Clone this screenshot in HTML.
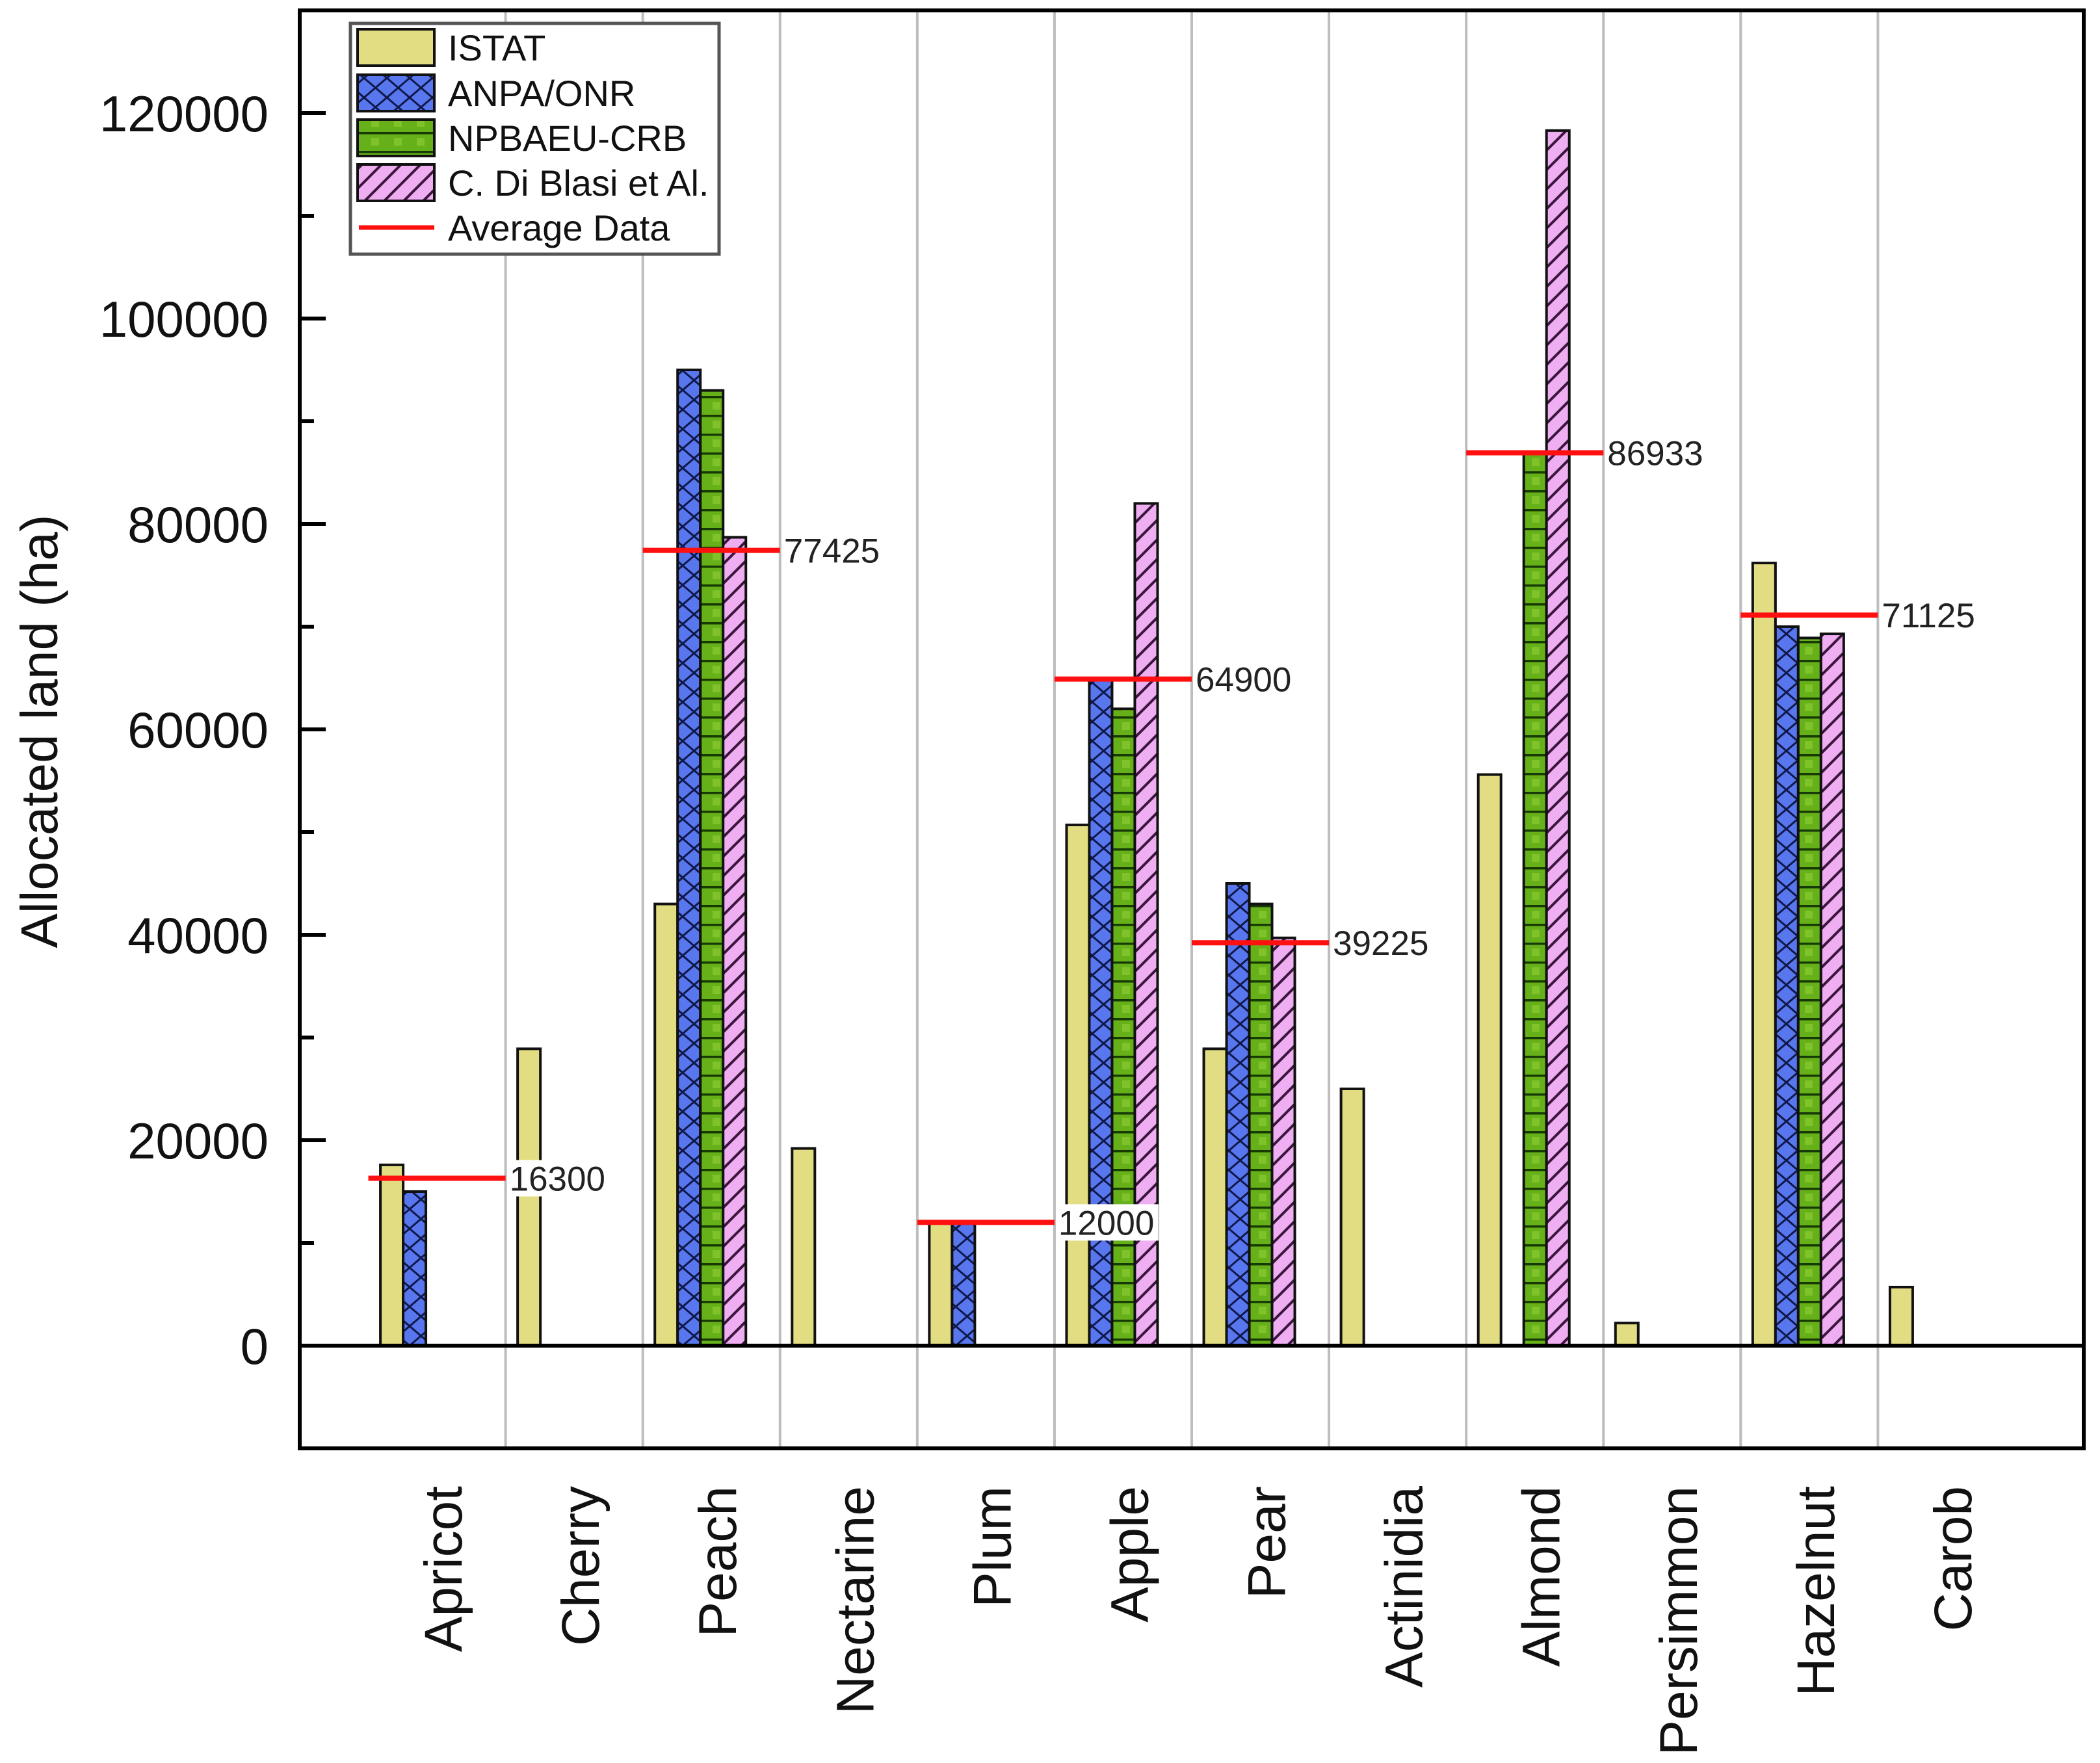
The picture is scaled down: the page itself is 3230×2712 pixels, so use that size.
<!DOCTYPE html>
<html><head><meta charset="utf-8"><style>
html,body{margin:0;padding:0;background:#fff;}
svg{display:block;font-family:"Liberation Sans",Arial,sans-serif;}
</style></head><body>
<svg id="chart" width="3230" height="2712" viewBox="0 0 3230 2712" xmlns="http://www.w3.org/2000/svg">
<defs>
<pattern id="pIstat" patternUnits="userSpaceOnUse" width="30" height="30"><rect width="30" height="30" fill="#e2dd82"/></pattern>
<pattern id="pAnpa" patternUnits="userSpaceOnUse" width="35" height="30"><rect width="35" height="30" fill="#5877ee"/><path d="M0,0 L35,30 M35,0 L0,30" stroke="#10184a" stroke-width="3"/></pattern>
<pattern id="pNpb" patternUnits="userSpaceOnUse" width="35" height="29"><rect width="35" height="29" fill="#66b019"/><path d="M0,1 L35,1" stroke="#173a05" stroke-width="5"/><rect x="11" y="9" width="12" height="12" fill="#7fc22a"/></pattern>
<pattern id="pCdb" patternUnits="userSpaceOnUse" width="30" height="30"><rect width="30" height="30" fill="#f0aef2"/><path d="M-8,38 L38,-8 M-23,23 L23,-23 M7,53 L53,7" stroke="#3a163c" stroke-width="4"/></pattern>
</defs>
<g id="plot"></g>
</svg>
<script>
const categories = ["Apricot","Cherry","Peach","Nectarine","Plum","Apple","Pear","Actinidia","Almond","Persimmon","Hazelnut","Carob"];
const istat  = [17600, 28900, 43000, 19200, 12000, 50700, 28900, 25000, 55600, 2200, 76200, 5700];
const anpa   = [15000, null, 95000, null, 12000, 64800, 45000, null, null, null, 70000, null];
const npbaeu = [null, null, 93000, null, null, 62000, 43000, null, 86900, null, 68900, null];
const diBlasi= [null, null, 78700, null, null, 82000, 39700, null, 118300, null, 69300, null];
const averages = [16300, null, 77425, null, 12000, 64900, 39225, null, 86933, null, 71125, null];
const yTicks = [0, 20000, 40000, 60000, 80000, 100000, 120000];
const seriesNames = ["ISTAT","ANPA/ONR","NPBAEU-CRB","C. Di Blasi et Al."];

const NS = "http://www.w3.org/2000/svg";
const L = 461, R = 3205, T = 16, B = 2228;
const yMin = -10000, yMax = 130000;
const step = (R - L) / 13;
function yScale(v){ return B - (v - yMin) / (yMax - yMin) * (B - T); }
function xScale(i){ return L + (i + 1) * step; }
const g = document.getElementById('plot');
function el(tag, attrs, parent){ const e = document.createElementNS(NS, tag); for (const k in attrs) e.setAttribute(k, attrs[k]); (parent||g).appendChild(e); return e; }

for (let i = 0; i < categories.length - 1; i++) {
  const x = xScale(i) + step / 2;
  const gl = el('line', {x1:x, x2:x, y1:T, y2:B, stroke:'#bdbdbd', 'stroke-width':4});
  
  
}
const all = [istat, anpa, npbaeu, diBlasi];
const fills = ['url(#pIstat)','url(#pAnpa)','url(#pNpb)','url(#pCdb)'];
const bw = 35;
for (let s = 0; s < all.length; s++) {
  for (let i = 0; i < categories.length; i++) {
    const v = all[s][i];
    if (v === null) continue;
    const x = xScale(i) - 87 + s * bw;
    const y0 = yScale(0), y1 = yScale(v);
    const r = el('rect', {x:x, y:y1, width:bw, height:y0 - y1, fill:fills[s], stroke:'#111', 'stroke-width':4});
    
    
  }
}
const zl = el('line', {x1:L, x2:R, y1:yScale(0), y2:yScale(0), stroke:'#000', 'stroke-width':6});


for (let i = 0; i < categories.length; i++) {
  const v = averages[i];
  if (v === null) continue;
  const cx = xScale(i), y = yScale(v);
  const bg = el('rect', {x:cx + step/2 + 4, y:y - 28, width:156, height:56, fill:'#fff'});
  
  
  const ln = el('line', {x1:cx - step/2, x2:cx + step/2, y1:y, y2:y, stroke:'#ff1010', 'stroke-width':8});
  
  
  const t = el('text', {x:cx + step/2 + 6, y:y + 19, 'font-size':53, fill:'#222'});
  t.textContent = String(v);
  
  
}
const fr = el('rect', {x:L, y:T, width:R-L, height:B-T, fill:'none', stroke:'#000', 'stroke-width':6});


for (let v = -10000; v <= 130000; v += 10000) {
  const y = yScale(v);
  const major = v % 20000 === 0;
  const tk = el('line', {x1:L, x2:L + (major ? 40 : 22), y1:y, y2:y, stroke:'#000', 'stroke-width':6});
  
  
}
for (const v of yTicks) {
  const t = el('text', {x:413, y:yScale(v) + 28, 'font-size':78, 'text-anchor':'end', fill:'#111'});
  t.textContent = String(v);
  
  
}
for (let i = 0; i < categories.length; i++) {
  const x = xScale(i) + 38, y = 2286;
  const t = el('text', {x:x, y:y, 'font-size':82, 'text-anchor':'end', fill:'#111', transform:'rotate(-90 ' + x + ' ' + y + ')'});
  t.textContent = categories[i];
  
  
}
const yt = el('text', {x:88, y:1125, 'font-size':80, 'text-anchor':'middle', fill:'#111', transform:'rotate(-90 88 1125)'});
yt.textContent = 'Allocated land (ha)';


const lg = el('g', {});


const lb = el('rect', {x:539, y:36, width:567, height:355, fill:'#fff', stroke:'#555', 'stroke-width':5}, lg);


const rowsY = [73, 143, 212, 281, 350];
for (let s = 0; s < 4; s++) {
  const sw = el('rect', {x:550, y:rowsY[s] - 28, width:118, height:56, fill:fills[s], stroke:'#111', 'stroke-width':4}, lg);
  
  
  const t = el('text', {x:689, y:rowsY[s] + 20, 'font-size':56, fill:'#111'}, lg);
  t.textContent = seriesNames[s];
  
  
}
const ll = el('line', {x1:552, x2:668, y1:rowsY[4], y2:rowsY[4], stroke:'#ff1010', 'stroke-width':7}, lg);


const lt = el('text', {x:689, y:rowsY[4] + 20, 'font-size':56, fill:'#111'}, lg);
lt.textContent = 'Average Data';


</script>
</body></html>
